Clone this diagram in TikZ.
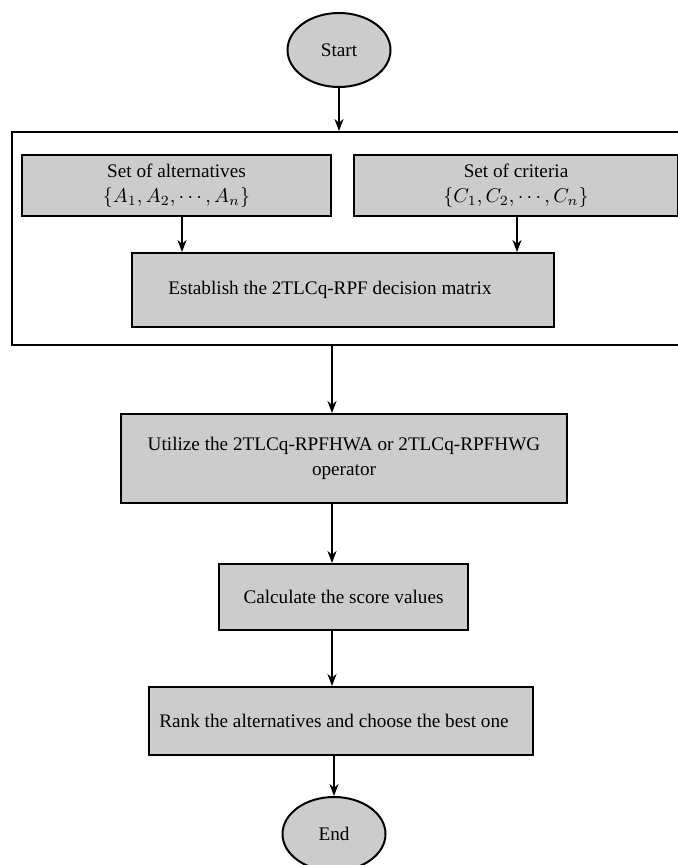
\documentclass[tikz,border=0pt]{standalone}
\usepackage{fontspec}
\setmainfont{Liberation Serif}
\usetikzlibrary{arrows.meta,shapes.geometric}
\begin{document}
\begin{tikzpicture}[x=0.5pt,y=-0.5pt,
  every node/.style={font=\fontsize{9.6}{12.5}\selectfont},
  procbox/.style={draw=black, line width=1pt, fill=black!20, rectangle, inner sep=2pt, align=center},
  termnode/.style={draw=black, line width=1pt, fill=black!20, ellipse, minimum width=51.5pt, minimum height=37pt, inner sep=0pt},
  arr/.style={line width=1pt, -{Stealth[length=6pt,width=4.5pt]}},
  groupbox/.style={draw=black, line width=1pt, rectangle, inner sep=0pt}]
\useasboundingbox (0,0) rectangle (678,865);
% group frame
\node[groupbox, minimum width=334pt, minimum height=106.5pt] (grp) at (346,238.5) {};
% nodes
\node[termnode] (start) at (339,50) {Start};
\node[procbox, minimum width=154.5pt, minimum height=30.5pt] (alt) at (176.5,186) {Set of alternatives\\ $\{A_1, A_2, \cdots, A_n\}$};
\node[procbox, minimum width=162pt, minimum height=30.5pt] (crit) at (516,186) {Set of criteria\\ $\{C_1, C_2, \cdots, C_n\}$};
\node[procbox, minimum width=211pt, minimum height=37pt] (est) at (343,290) {Establish the 2TLCq-RPF decision matrix\hspace*{13pt}};
\node[procbox, minimum width=223pt, minimum height=44.5pt] (util) at (344,458.5) {Utilize the 2TLCq-RPFHWA or 2TLCq-RPFHWG\\ operator};
\node[procbox, minimum width=124.5pt, minimum height=33pt] (calc) at (343.5,597) {Calculate the score values};
\node[procbox, minimum width=192pt, minimum height=34pt] (rank) at (341,721) {Rank the alternatives and choose the best one\hspace*{7pt}};
\node[termnode] (end) at (334,834) {End};
% helper coordinates for arrow x positions
\coordinate (xa) at (182,0);
\coordinate (xc) at (517,0);
\coordinate (xm) at (332,0);
% connectors
\draw[arr] (start.south) -- (start.south |- grp.north);
\draw[arr] (alt.south -| xa) -- (est.north -| xa);
\draw[arr] (crit.south -| xc) -- (est.north -| xc);
\draw[arr] (grp.south -| xm) -- (util.north -| xm);
\draw[arr] (util.south -| xm) -- (calc.north -| xm);
\draw[arr] (calc.south -| xm) -- (rank.north -| xm);
\draw[arr] (rank.south -| end.north) -- (end.north);
\end{tikzpicture}
\end{document}
